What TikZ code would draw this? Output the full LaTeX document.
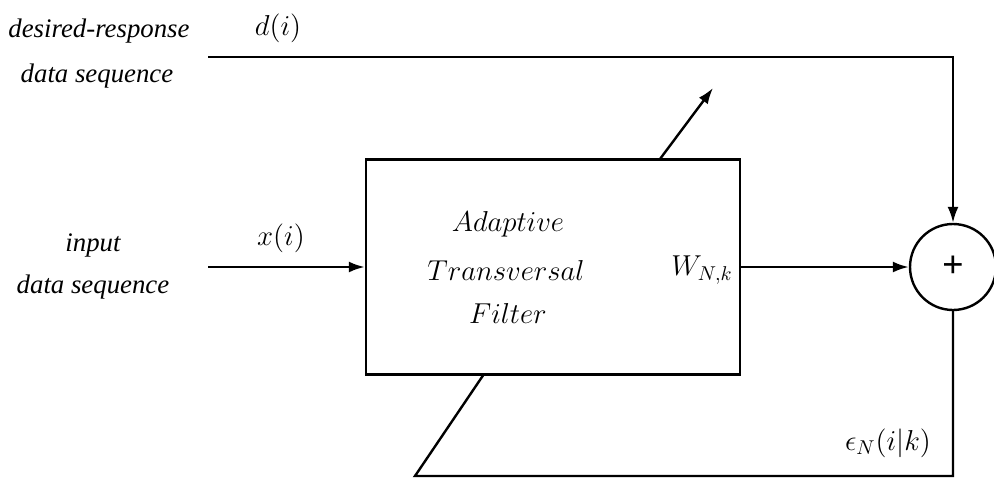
\documentclass[tikz,border=0pt]{standalone}
\usepackage{fontspec}
\setmainfont{Liberation Serif}
\usetikzlibrary{arrows.meta}
\begin{document}
\begin{tikzpicture}[x=0.5pt,y=-0.5pt,
  wire/.style={line width=1.2pt},
  arr/.style={wire,-{Latex[length=8pt,width=5.5pt]}},
  lbl/.style={font=\fontsize{13.4}{16}\selectfont\itshape,align=center,inner sep=0pt},
  slbl/.style={font=\fontsize{14}{16}\selectfont,inner sep=0pt},
  blbl/.style={font=\fontsize{13.6}{16}\selectfont,inner sep=0pt}]
\useasboundingbox (0,0) rectangle (994,481);
\node[draw,wire,minimum width=187pt,minimum height=107.5pt,inner sep=0pt] (box) at (553,267) {};
\node[draw,wire,circle,minimum size=43pt,inner sep=0pt] (sum) at (953,267) {};
\node[font=\fontsize{19}{19}\selectfont\bfseries,inner sep=0pt] (plus) at (sum.center) {+};
% texts
\node[lbl] (dr1) at (99,31) {desired-response};
\node[lbl] (dr2) at (97,76) {data sequence};
\node[lbl] (in1) at (93,245) {input};
\node[lbl] (in2) at (93,287) {data sequence};
\node[slbl] (dlab) at (278,28) {$d(i)$};
\node[slbl] (xlab) at (281,238) {$x(i)$};
\node[blbl] (t1) at (508,224) {$Adaptive$};
\node[blbl] (t2) at (506,270) {$Transversal$};
\node[blbl] (t3) at (508,313) {$Filter$};
\node[slbl] (wlab) at (702,270) {$W_{N,k}$};
\node[slbl] (elab) at (888,443) {$\epsilon_N(i|k)$};
% coordinates
\coordinate (ds) at (208,57);
\coordinate (dc) at (953,57);
\coordinate (xs) at (208,267);
\coordinate (eb) at (953,476);
\coordinate (el) at (415,476);
\coordinate (et) at (484,374);
\coordinate (ws) at (660,159);
\coordinate (we) at (713,88);
% connectors
\draw[arr] (ds) -- (dc) -- (sum.north);
\draw[arr] (xs) -- (box.west);
\draw[arr] (box.east) -- (sum.west);
\draw[wire] (sum.south) -- (eb) -- (el) -- (et);
\draw[arr] (ws) -- (we);
\end{tikzpicture}
\end{document}
